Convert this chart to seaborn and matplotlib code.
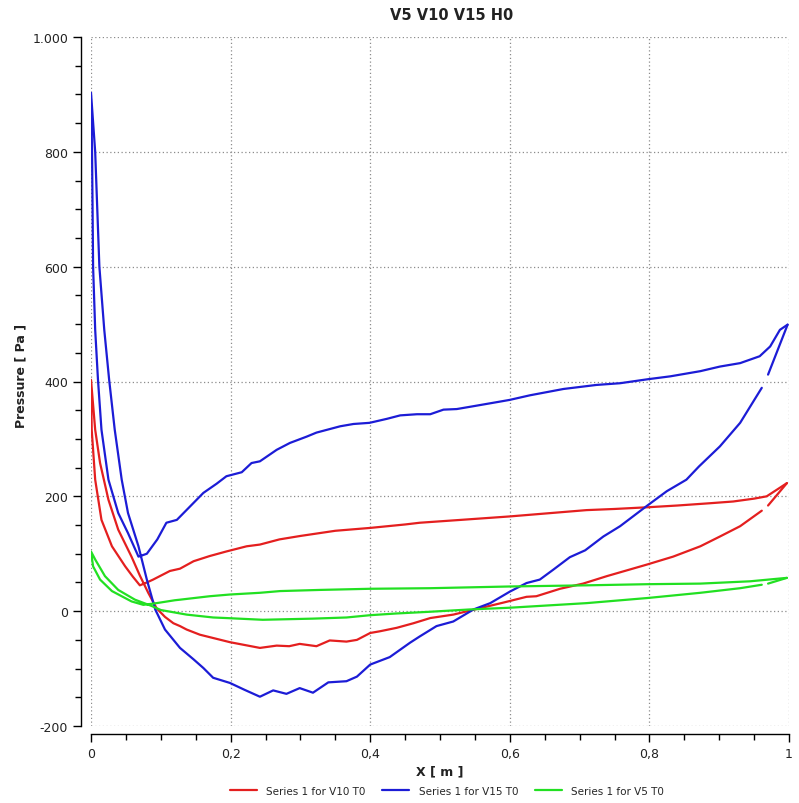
import numpy as np
import pandas as pd
import seaborn as sns
import matplotlib
matplotlib.use("Agg")
import matplotlib.pyplot as plt
from matplotlib.ticker import FuncFormatter, MultipleLocator

# ---- Pressure along the profile: upper and lower surface for each speed ----
series_names = ["Series 1 for V10 T0", "Series 1 for V15 T0", "Series 1 for V5 T0"]

# V15
v15_x_upper = [0.000, 0.0015, 0.003, 0.006, 0.010, 0.015, 0.025, 0.039, 0.053, 0.068, 0.080, 0.095,
               0.108, 0.123, 0.140, 0.161, 0.180, 0.194, 0.216, 0.230, 0.242, 0.266, 0.285, 0.309,
               0.323, 0.357, 0.376, 0.399, 0.424, 0.443, 0.467, 0.486, 0.505, 0.524, 0.548, 0.586,
               0.600, 0.629, 0.677, 0.724, 0.758, 0.798, 0.830, 0.873, 0.901, 0.930, 0.958, 0.973,
               0.987, 0.998]
v15_p_upper = [903, 800, 600, 490, 403, 316, 229, 171, 136, 95, 100, 125,
               154, 159, 180, 206, 222, 235, 242, 258, 261, 281, 293, 304,
               311, 322, 326, 328, 335, 341, 343, 343, 351, 352, 357, 365,
               368, 376, 387, 394, 397, 404, 409, 418, 426, 432, 444, 461,
               490, 499]
v15_x_lower = [0.000, 0.006, 0.012, 0.019, 0.026, 0.034, 0.044, 0.053, 0.068, 0.080, 0.092, 0.106,
               0.1275, 0.147, 0.161, 0.175, 0.199, 0.220, 0.242, 0.261, 0.280, 0.299, 0.318, 0.340,
               0.366, 0.381, 0.400, 0.428, 0.457, 0.471, 0.495, 0.519, 0.548, 0.572, 0.600, 0.624,
               0.643, 0.662, 0.686, 0.708, 0.734, 0.758, 0.796, 0.825, 0.853, 0.871, 0.901, 0.930,
               0.961, 0.970, 0.998]
v15_p_lower = [903, 800, 600, 490, 403, 316, 229, 171, 113, 55, 3, -32,
               -64, -84, -99, -116, -125, -137, -149, -138, -144, -134, -142, -124,
               -122, -114, -93, -80, -55, -44, -26, -18, 3, 14, 34, 49,
               55, 72, 94, 106, 130, 148, 183, 209, 229, 252, 287, 328,
               389, 412, 499]

# V10
v10_x_upper = [0.000, 0.001, 0.006, 0.015, 0.030, 0.049, 0.060, 0.070, 0.080, 0.089, 0.113, 0.1275,
               0.147, 0.170, 0.194, 0.223, 0.242, 0.270, 0.300, 0.350, 0.400, 0.450, 0.471, 0.530,
               0.600, 0.650, 0.710, 0.750, 0.798, 0.840, 0.887, 0.920, 0.950, 0.968, 0.987, 0.997]
v10_p_upper = [403, 316, 229, 159, 113, 78, 60, 45, 50, 55, 70, 74,
               87, 96, 104, 113, 116, 125, 131, 140, 145, 151, 154, 159,
               165, 170, 176, 178, 181, 184, 188, 191, 196, 200, 215, 223]
v10_x_lower = [0.000, 0.006, 0.013, 0.025, 0.039, 0.058, 0.070, 0.082, 0.094, 0.106, 0.118, 0.1275,
               0.137, 0.156, 0.199, 0.242, 0.266, 0.284, 0.299, 0.323, 0.342, 0.366, 0.381, 0.400,
               0.414, 0.438, 0.462, 0.486, 0.519, 0.567, 0.591, 0.624, 0.638, 0.672, 0.705, 0.739,
               0.796, 0.834, 0.873, 0.901, 0.930, 0.961, 0.970, 0.997]
v10_p_lower = [403, 316, 258, 194, 142, 95, 62, 32, 5, -10, -21, -26,
               -32, -41, -54, -64, -60, -61, -57, -61, -51, -53, -50, -38,
               -35, -29, -21, -12, -6, 8, 15, 25, 26, 39, 48, 61,
               81, 95, 113, 130, 148, 175, 184, 223]

# V5
v5_x_upper = [0.000, 0.003, 0.013, 0.030, 0.058, 0.075, 0.094, 0.120, 0.1275, 0.170, 0.199, 0.242,
              0.271, 0.328, 0.400, 0.486, 0.600, 0.710, 0.798, 0.873, 0.944, 0.997]
v5_p_upper = [104, 78, 55, 35, 17, 11, 14, 19, 20, 26, 29, 32,
              35, 37, 39, 40, 43, 45, 47, 48, 52, 58]
v5_x_lower = [0.000, 0.006, 0.020, 0.039, 0.063, 0.087, 0.100, 0.137, 0.175, 0.194, 0.246, 0.318,
              0.366, 0.400, 0.438, 0.486, 0.543, 0.600, 0.710, 0.798, 0.873, 0.930, 0.961, 0.970,
              0.997]
v5_p_lower = [104, 90, 61, 37, 20, 9, 2, -6, -11, -12, -15, -13,
              -11, -7, -4, -1, 3, 6, 14, 23, 32, 40, 46, 48,
              58]

x_ticks = [0.0, 0.2, 0.4, 0.6, 0.8, 1.0]
y_ticks = [-200, 0, 200, 400, 600, 800, 1000]

palette = {series_names[0]: "#e41f1f", series_names[1]: "#1c1cd6", series_names[2]: "#22e022"}

# The exported lines have a small break just ahead of the trailing edge on the lower surface
trailing_break = 0.965


def build_paths(name, xu, pu, xl, pl):
    xl = np.asarray(xl, float)
    pl = np.asarray(pl, float)
    front = xl <= trailing_break
    # lower surface from the break towards the leading edge, then upper surface to the trailing edge
    x_main = np.concatenate([xl[front][::-1], np.asarray(xu, float)[1:]])
    p_main = np.concatenate([pl[front][::-1], np.asarray(pu, float)[1:]])
    rows = [pd.DataFrame({"x": x_main, "p": p_main, "series": name, "part": f"{name}-a"}),
            pd.DataFrame({"x": xl[~front], "p": pl[~front], "series": name, "part": f"{name}-b"})]
    return pd.concat(rows, ignore_index=True)


df = pd.concat([
    build_paths(series_names[0], v10_x_upper, v10_p_upper, v10_x_lower, v10_p_lower),
    build_paths(series_names[1], v15_x_upper, v15_p_upper, v15_x_lower, v15_p_lower),
    build_paths(series_names[2], v5_x_upper, v5_p_upper, v5_x_lower, v5_p_lower),
], ignore_index=True)

sns.set_theme(style="white")
plt.rcParams["font.family"] = ["DejaVu Sans"]

fig = plt.figure(figsize=(7.99, 8.04), dpi=100)
ax = fig.add_axes([91 / 799, 1 - 727 / 804, 698 / 799, 689 / 804])

sns.lineplot(data=df, x="x", y="p", hue="series", units="part", estimator=None, sort=False,
             hue_order=series_names, palette=palette, linewidth=1.6, ax=ax, legend=True)

ax.set_xlim(0, 1)
ax.set_ylim(-200, 1000)
ax.set_xticks(x_ticks)
ax.set_yticks(y_ticks)
ax.xaxis.set_minor_locator(MultipleLocator(0.05))
ax.yaxis.set_minor_locator(MultipleLocator(50))


def fmt_x(v, pos):
    if abs(v - round(v)) < 1e-9:
        return f"{int(round(v))}"
    return f"{v:.1f}".replace(".", ",")


def fmt_y(v, pos):
    v = int(round(v))
    if abs(v) >= 1000:
        return f"{v:,}".replace(",", ".")
    return f"{v}"


ax.xaxis.set_major_formatter(FuncFormatter(fmt_x))
ax.yaxis.set_major_formatter(FuncFormatter(fmt_y))

ax.grid(True, which="major", color="#8c8c8c", linestyle=(0, (1, 2)), linewidth=0.9)
ax.set_axisbelow(True)

sns.despine(ax=ax, offset={"left": 7.5, "bottom": 6})
for side in ("left", "bottom"):
    ax.spines[side].set_color("black")
    ax.spines[side].set_linewidth(1.0)

ax.tick_params(axis="both", which="major", direction="out", length=6, width=1, color="black",
               labelsize=9, labelcolor="#222222", pad=3, left=True, bottom=True)
ax.tick_params(axis="both", which="minor", direction="out", length=4, width=1, color="black",
               left=True, bottom=True)

ax.set_xlabel("X [ m ]", fontsize=9, fontweight="bold", color="#222222")
ax.set_ylabel("Pressure [ Pa ]", fontsize=9, fontweight="bold", color="#222222")
ax.xaxis.set_label_coords(0.5, -0.056)
ax.yaxis.set_label_coords(-0.091, 0.51)

fig.text(452 / 799, 1 - 16 / 804, "V5 V10 V15 H0", ha="center", va="center",
         fontsize=10.5, fontweight="bold", color="#222222")

leg = ax.get_legend()
handles = leg.legend_handles
labels = [t.get_text() for t in leg.get_texts()]
leg.remove()
fig.legend(handles, labels, loc="center", bbox_to_anchor=(447 / 799, 1 - 792 / 804), ncol=3,
           frameon=False, fontsize=7.5, handlelength=2.6, handletextpad=0.9, columnspacing=1.6,
           borderaxespad=0, borderpad=0)

fig.savefig("out.png", dpi=100)
